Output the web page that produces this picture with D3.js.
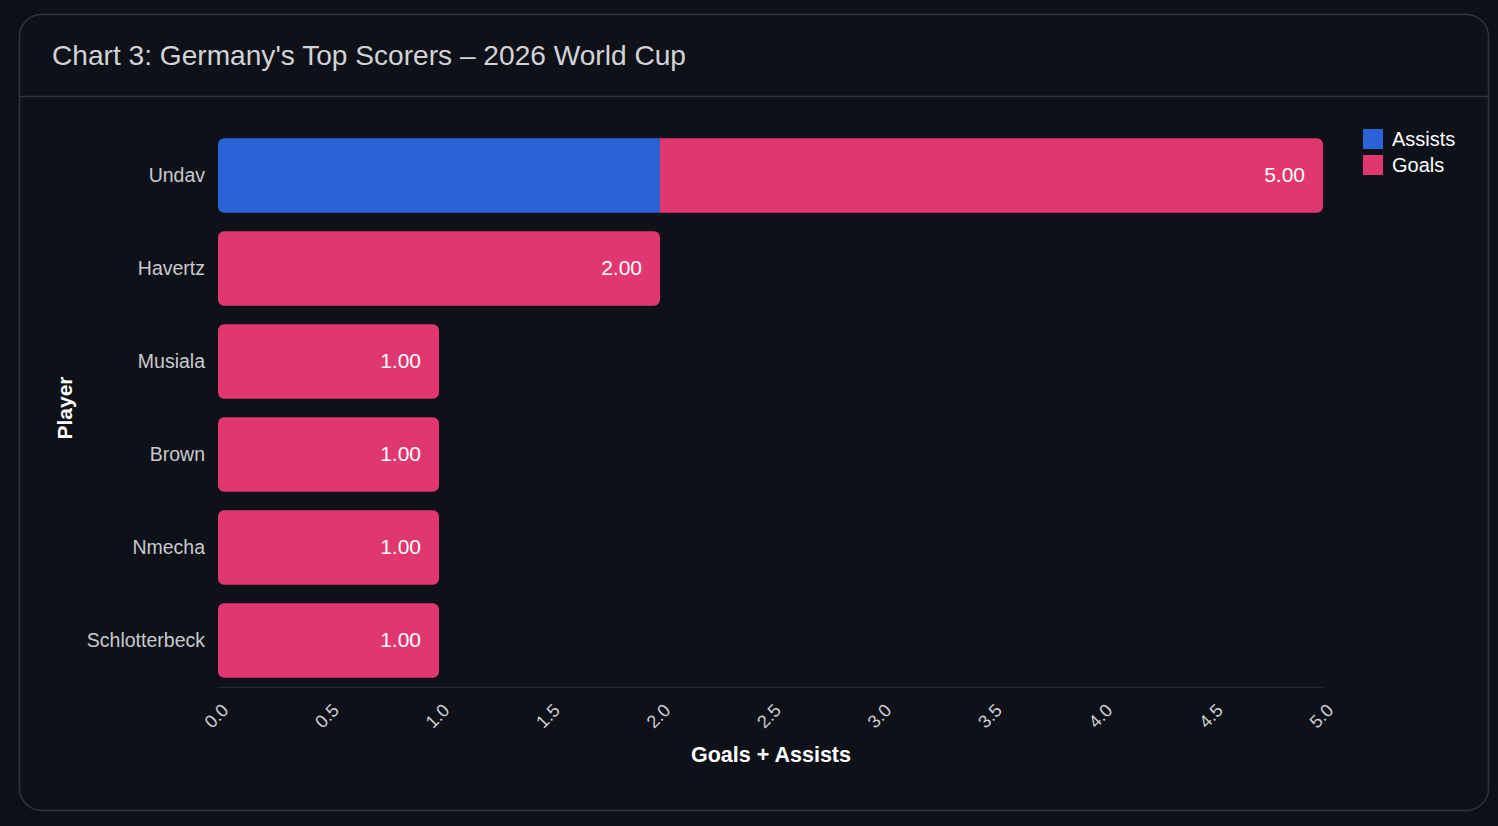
<!DOCTYPE html>
<html><head><meta charset="utf-8">
<script src="https://cdn.jsdelivr.net/npm/d3@7"></script>
<style>
html,body{margin:0;padding:0;background:#0d1016;}
svg{display:block;font-family:"Liberation Sans",Arial,sans-serif;}
</style></head>
<body><svg id="c" width="1498" height="826"></svg>
<script>
const players = ["Undav","Havertz","Musiala","Brown","Nmecha","Schlotterbeck"];
const assists = [2,0,0,0,0,0];
const goals = [3,2,1,1,1,1];
const seriesNames = ["Assists","Goals"];
const seriesColors = ["#2a63d5","#e03770"];
const xTicks = [0,0.5,1,1.5,2,2.5,3,3.5,4,4.5,5];

const svg = d3.select("#c");
svg.append("rect").attr("x",19.5).attr("y",14.5).attr("width",1469).attr("height",796)
  .attr("rx",22).attr("fill","#0e1118").attr("stroke","#30343c").attr("stroke-width",1.5);
svg.append("line").attr("x1",20).attr("x2",1488).attr("y1",96.5).attr("y2",96.5)
  .attr("stroke","#30343c").attr("stroke-width",1.5);
svg.append("text").attr("x",52).attr("y",65).attr("fill","#d2d3d6")
  .attr("font-size",28).attr("textLength",634).attr("lengthAdjust","spacingAndGlyphs")
  .text("Chart 3: Germany's Top Scorers – 2026 World Cup");

const x = d3.scaleLinear().domain([0,5]).range([218,1323]);
const y = d3.scaleBand().domain(players).range([129,687]).paddingInner(0.2).paddingOuter(0.1);

const data = players.map((p,i)=>({p, a:assists[i], g:goals[i]}));
const stack = d3.stack().keys(["a","g"])(data);
const r = 6;
function seg(x0,x1,y0,h,roundL,roundR){
  const rl = roundL? r:0, rr = roundR? r:0;
  const p = d3.path();
  p.moveTo(x0+rl,y0);
  p.lineTo(x1-rr,y0);
  if(rr) p.arcTo(x1,y0,x1,y0+rr,rr);
  p.lineTo(x1,y0+h-rr);
  if(rr) p.arcTo(x1,y0+h,x1-rr,y0+h,rr);
  p.lineTo(x0+rl,y0+h);
  if(rl) p.arcTo(x0,y0+h,x0,y0+h-rl,rl);
  p.lineTo(x0,y0+rl);
  if(rl) p.arcTo(x0,y0,x0+rl,y0,rl);
  p.closePath();
  return p.toString();
}
stack.forEach((s,si)=>{
  svg.append("g").selectAll("path").data(s.filter(d=>d[1]>d[0])).join("path")
    .attr("d",d=>{
      const first = d[0]===0;
      const last = d[1]===d.data.a+d.data.g;
      return seg(x(d[0]),x(d[1]),y(d.data.p),y.bandwidth(),first,last);
    })
    .attr("fill",seriesColors[si]);
});

// value labels
svg.append("g").selectAll("text").data(data).join("text")
  .attr("x",d=>x(d.a+d.g)-18).attr("y",d=>y(d.p)+y.bandwidth()/2)
  .attr("dy","0.33em").attr("text-anchor","end").attr("fill","#ffffff")
  .attr("font-size",21).text(d=>(d.a+d.g).toFixed(2));

// y axis labels
const yAxis = svg.append("g").attr("transform","translate(218,0)")
  .call(d3.axisLeft(y).tickSize(0).tickPadding(13));
yAxis.select(".domain").remove();
yAxis.selectAll("text").attr("fill","#c9cace").attr("font-size",19.5)
  .attr("font-family","Liberation Sans, Arial, sans-serif");

// x axis
const xAxis = svg.append("g").attr("transform","translate(0,687)")
  .call(d3.axisBottom(x).tickValues(xTicks).tickSize(0).tickFormat(d3.format(".1f")));
xAxis.select(".domain").attr("stroke","#25282e").attr("stroke-width",1.5);
xAxis.selectAll("text").attr("fill","#cfd0d3").attr("font-size",18)
  .attr("font-family","Liberation Sans, Arial, sans-serif")
  .attr("text-anchor","middle").attr("dy",null).attr("y",null)
  .attr("transform","translate(-1,30) rotate(-45)").attr("dominant-baseline","middle");

svg.append("text").attr("x",771).attr("y",762).attr("text-anchor","middle")
  .attr("fill","#ffffff").attr("font-weight","bold").attr("font-size",21.5).text("Goals + Assists");
svg.append("text").attr("transform","translate(72,408) rotate(-90)").attr("text-anchor","middle")
  .attr("fill","#ffffff").attr("font-weight","bold").attr("font-size",21).text("Player");

// legend
const lg = svg.append("g").selectAll("g").data(seriesNames).join("g")
  .attr("transform",(d,i)=>`translate(1363,${129+i*26})`);
lg.append("rect").attr("width",20).attr("height",20).attr("fill",(d,i)=>seriesColors[i]);
lg.append("text").attr("x",29).attr("y",10).attr("dy","0.35em").attr("fill","#ffffff")
  .attr("font-size",20).text(d=>d);
</script></body></html>
